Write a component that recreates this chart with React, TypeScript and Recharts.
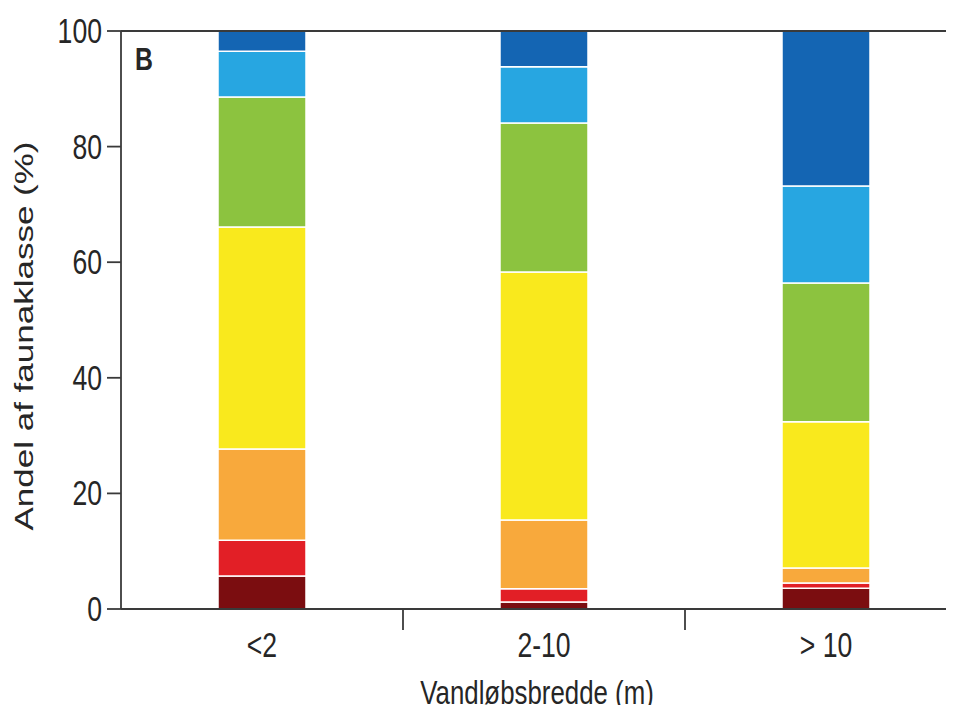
import React from 'react';
import { BarChart, Bar, XAxis, YAxis, ReferenceLine } from 'recharts';

const categories = ['<2', '2-10', '> 10'];
const darkRed = [5.7, 1.2, 3.6];
const red = [6.2, 2.3, 0.9];
const orange = [15.8, 11.9, 2.6];
const yellow = [38.4, 42.9, 25.3];
const green = [22.5, 25.8, 24.0];
const lightBlue = [7.9, 9.7, 16.8];
const darkBlue = [3.5, 6.2, 26.8];
const yTicks = [0, 20, 40, 60, 80, 100];

const seriesDefs = [
  { key: 'darkRed', values: darkRed, color: '#7b0d10' },
  { key: 'red', values: red, color: '#e21f26' },
  { key: 'orange', values: orange, color: '#f8a93c' },
  { key: 'yellow', values: yellow, color: '#f9e91d' },
  { key: 'green', values: green, color: '#8cc33f' },
  { key: 'lightBlue', values: lightBlue, color: '#27a6e1' },
  { key: 'darkBlue', values: darkBlue, color: '#1465b3' },
];

const data = categories.map((c, i) => {
  const row: Record<string, number | string> = { cat: c };
  seriesDefs.forEach((s) => (row[s.key] = s.values[i]));
  return row;
});

const W = 980;
const H = 713;
const M = { top: 31, right: 13, left: 0, bottom: 0 };
const Y_W = 121;
const X_H = 104;
const plotW = W - M.left - M.right - Y_W;
const step = plotW / categories.length;

const FONT = '"Liberation Sans", Arial, Helvetica, sans-serif';
const SX = 0.76;
const TEXT_COLOR = '#262626';
const AXIS_COLOR = '#3a3a3a';

const XTick = (props: any) => {
  const { x, y, payload, index } = props;
  return (
    <g>
      <text
        transform={`translate(${x},${y + 48}) scale(${SX},1)`}
        textAnchor="middle"
        fontFamily={FONT}
        fontSize={35}
        fill={TEXT_COLOR}
      >
        {payload.value}
      </text>
      {index < categories.length - 1 && (
        <line x1={x + step / 2} x2={x + step / 2} y1={y} y2={y + 21} stroke={AXIS_COLOR} strokeWidth={1.8} />
      )}
    </g>
  );
};

const YTick = (props: any) => {
  const { x, y, payload } = props;
  return (
    <text
      transform={`translate(${x},${y + 12}) scale(${SX},1)`}
      textAnchor="end"
      fontFamily={FONT}
      fontSize={35}
      fill={TEXT_COLOR}
    >
      {payload.value}
    </text>
  );
};

export default function App() {
  return (
    <div style={{ margin: -8, width: 954, height: 713, overflow: 'hidden', position: 'relative', background: '#fff' }}>
      <BarChart width={W} height={H} data={data} margin={M} barSize={88}>
        <XAxis
          dataKey="cat"
          height={X_H}
          tickLine={false}
          tickSize={0}
          tickMargin={0}
          axisLine={{ stroke: AXIS_COLOR, strokeWidth: 1.8 }}
          tick={<XTick />}
          interval={0}
          label={{
            content: (p: any) => {
              const vb = p.viewBox;
              return (
                <text
                  transform={`translate(${vb.x + vb.width / 2 - 7},${vb.y + 95}) scale(${SX},1)`}
                  textAnchor="middle"
                  fontFamily={FONT}
                  fontSize={34}
                  fill={TEXT_COLOR}
                >
                  Vandløbsbredde (m)
                </text>
              );
            },
          }}
        />
        <YAxis
          width={Y_W}
          domain={[0, 100]}
          ticks={yTicks}
          interval={0}
          tickSize={14}
          tickMargin={5}
          axisLine={{ stroke: AXIS_COLOR, strokeWidth: 1.8 }}
          tickLine={{ stroke: AXIS_COLOR, strokeWidth: 1.8 }}
          tick={<YTick />}
          label={{
            content: (p: any) => {
              const vb = p.viewBox;
              const cx = vb.x + 33;
              const cy = vb.y + vb.height / 2 + 16;
              return (
                <text
                  transform={`translate(${cx},${cy}) scale(${SX},1) rotate(-90)`}
                  textAnchor="middle"
                  fontFamily={FONT}
                  fontSize={35}
                  fill={TEXT_COLOR}
                >
                  Andel af faunaklasse (%)
                </text>
              );
            },
          }}
        />
        <ReferenceLine y={100} stroke={AXIS_COLOR} strokeWidth={1.8} />
        {seriesDefs.map((s) => (
          <Bar key={s.key} dataKey={s.key} stackId="a" fill={s.color} stroke="#fff" strokeWidth={1.5} isAnimationActive={false} />
        ))}
      </BarChart>
      <svg width={954} height={713} style={{ position: 'absolute', left: 0, top: 0, pointerEvents: 'none' }}>
        <text transform={`translate(135,70) scale(0.8,1)`} fontFamily={FONT} fontWeight="bold" fontSize={31} fill={TEXT_COLOR}>
          B
        </text>
      </svg>
    </div>
  );
}
